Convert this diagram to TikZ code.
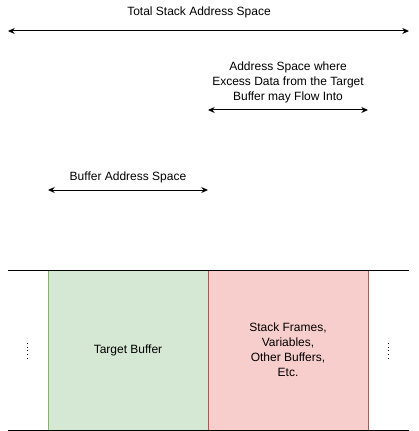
\documentclass[tikz,border=0pt]{standalone}
\usepackage{fontspec}
\setmainfont{Liberation Sans}
\usetikzlibrary{positioning,arrows.meta}
\definecolor{bufgreen}{HTML}{D5E8D4}
\definecolor{bufgreenln}{HTML}{82B366}
\definecolor{stkred}{HTML}{F8CECC}
\definecolor{stkredln}{HTML}{B85450}
\tikzset{
  span/.style={{Stealth[length=5pt,width=4.5pt,inset=1.6pt]}-{Stealth[length=5pt,width=4.5pt,inset=1.6pt]},line width=0.75pt},
  lbl/.style={font=\fontsize{9}{11.25}\selectfont,align=center,inner sep=0pt},
  region/.style={rectangle,minimum width=120pt,minimum height=120pt,line width=0.75pt,
    font=\fontsize{9}{11.25}\selectfont,align=center,inner sep=0pt},
  tbuf/.style={region,fill=bufgreen,draw=bufgreenln},
  frames/.style={region,fill=stkred,draw=stkredln},
  edge/.style={line width=0.75pt},
  more/.style={line width=0.75pt,dotted},
}
\begin{document}
\begin{tikzpicture}[x=0.75pt,y=-0.75pt]
  \useasboundingbox (0,0) rectangle (418,431);
  % address spaces
  \coordinate (totL) at (8,31);
  \coordinate (totR) at (409,31);
  \draw[span] (totL) -- (totR);
  \node[lbl] (totLbl) at (199,12) {Total Stack Address Space};
  \coordinate (excL) at (208,110);
  \coordinate (excR) at (368,110);
  \draw[span] (excL) -- (excR);
  \node[lbl] (excLbl) at (288,82) {Address Space where\\Excess Data from the Target\\Buffer may Flow Into};
  \coordinate (bufL) at (48,190);
  \coordinate (bufR) at (208,190);
  \draw[span] (bufL) -- (bufR);
  \node[lbl] (bufLbl) at (128,177) {Buffer Address Space};
  % the stack itself
  \node[tbuf] (target) at (128,350) {Target Buffer};
  \node[frames] (stack) at (288,350) {Stack Frames,\\Variables,\\Other Buffers,\\Etc.};
  \coordinate (topL) at (8,270);
  \coordinate (topR) at (409,270);
  \coordinate (botL) at (8,430);
  \coordinate (botR) at (409,430);
  \draw[edge] (topL) -- (topR);
  \draw[edge] (botL) -- (botR);
  \coordinate (dotL1) at (27,343);
  \coordinate (dotL2) at (27,359);
  \coordinate (dotR1) at (388,343);
  \coordinate (dotR2) at (388,359);
  \draw[more] (dotL1) -- (dotL2);
  \draw[more] (dotR1) -- (dotR2);
\end{tikzpicture}
\end{document}
